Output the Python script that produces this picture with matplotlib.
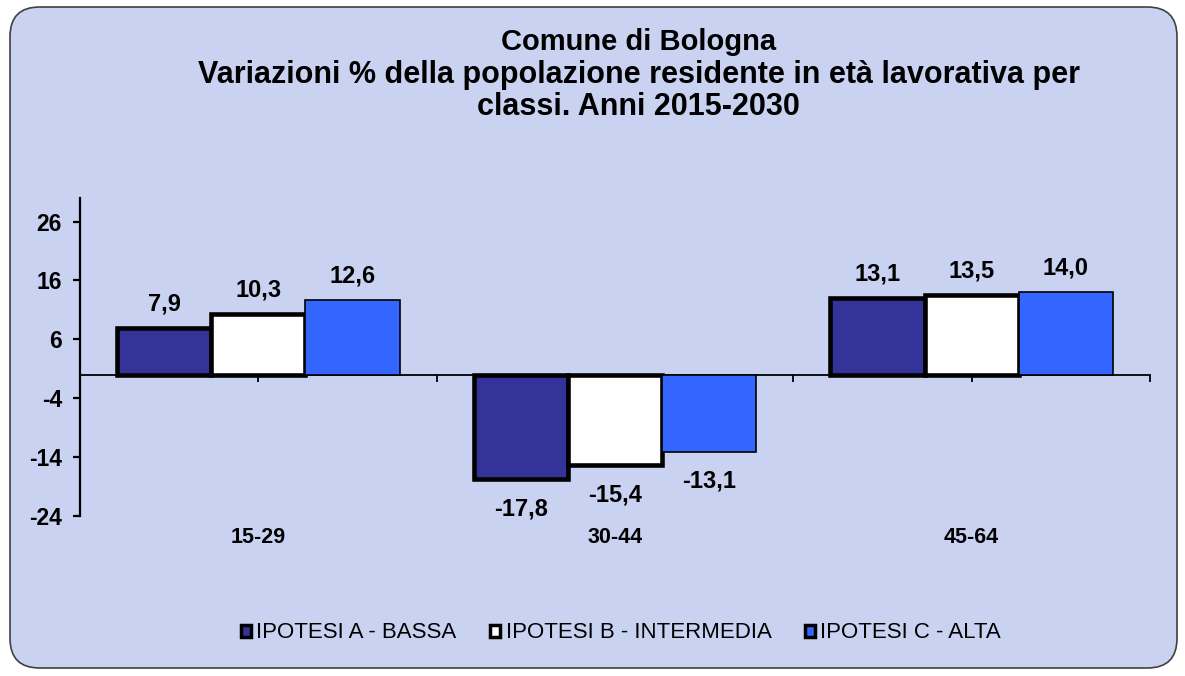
import matplotlib.pyplot as plt
from matplotlib.patches import FancyBboxPatch, Rectangle
import numpy as np

CATEGORIES = ["15-29", "30-44", "45-64"]
SERIES = ["IPOTESI A - BASSA", "IPOTESI B - INTERMEDIA", "IPOTESI C - ALTA"]
IPOTESI_A = [7.9, -17.8, 13.1]
IPOTESI_B = [10.3, -15.4, 13.5]
IPOTESI_C = [12.6, -13.1, 14.0]
Y_TICKS = [-24, -14, -4, 6, 16, 26]
TITLE_LINES = [
    "Comune di Bologna",
    "Variazioni % della popolazione residente in età lavorativa per",
    "classi. Anni 2015-2030",
]

COLORS = ["#333399", "#ffffff", "#3366ff"]
EDGE_WIDTHS = [3.3, 3.3, 1.2]
BG = "#c9d3f1"

plt.rcParams["font.family"] = ["Liberation Sans", "DejaVu Sans"]


def main() -> None:
    fig = plt.figure(figsize=(11.85, 6.76), dpi=100)
    fig.patch.set_facecolor("white")
    frame = FancyBboxPatch(
        (10 / 1185, 8 / 676), 1167 / 1185, 661 / 676,
        boxstyle="round,pad=0,rounding_size=0.025",
        transform=fig.transFigure, facecolor=BG, edgecolor="#404040", linewidth=1.2,
        mutation_aspect=1185 / 676, zorder=-10,
    )
    fig.patches.append(frame)

    ax = fig.add_axes([80 / 1185, 1 - 516 / 676, 1070 / 1185, 318 / 676])
    ax.set_facecolor("none")

    x = np.arange(len(CATEGORIES))
    width = 0.264
    handles = []
    for i, (vals, name) in enumerate(zip([IPOTESI_A, IPOTESI_B, IPOTESI_C], SERIES)):
        pos = x + (i - 1) * width
        ax.bar(pos, vals, width, color=COLORS[i], edgecolor="black",
               linewidth=EDGE_WIDTHS[i], zorder=3)
        for px, v in zip(pos, vals):
            txt = f"{v:.1f}".replace(".", ",")
            off = 9 if v >= 0 else -13
            ax.annotate(txt, (px, v), xytext=(0, off), textcoords="offset points",
                        ha="center", va="bottom" if v >= 0 else "top",
                        fontsize=17, fontweight="bold")
        handles.append(Rectangle((0, 0), 1, 1, facecolor=COLORS[i], edgecolor="black", linewidth=2.5))

    ax.set_xlim(-0.5, 2.5)
    ax.set_ylim(-24, 30)
    ax.spines["top"].set_visible(False)
    ax.spines["right"].set_visible(False)
    ax.spines["left"].set_linewidth(1.6)
    ax.spines["bottom"].set_position(("data", 0))
    ax.spines["bottom"].set_linewidth(1.3)
    ax.spines["bottom"].set_zorder(2)

    ax.set_yticks(Y_TICKS)
    ax.set_yticklabels([str(t) for t in Y_TICKS], fontsize=16.5, fontweight="bold")
    ax.tick_params(axis="y", direction="out", length=5, width=1.6, pad=8)
    ax.set_xticks([-0.5, 0, 0.5, 1, 1.5, 2, 2.5])
    ax.set_xticklabels([])
    ax.tick_params(axis="x", direction="out", length=5, width=1.3)

    for xi, cat in zip(x, CATEGORIES):
        ax.annotate(cat, (xi, -24), xytext=(0, -8), textcoords="offset points",
                    ha="center", va="top", fontsize=15.5, fontweight="bold")

    for y_px, line, size in zip([42, 75, 107], TITLE_LINES, [21, 22, 22]):
        fig.text(0.539, 1 - y_px / 676, line, ha="center", va="center",
                 fontsize=size, fontweight="bold")

    fig.legend(handles, SERIES, loc="center", bbox_to_anchor=(621 / 1185, 1 - 633 / 676),
               ncol=3, frameon=False, fontsize=16, handlelength=0.45, handleheight=0.45,
               handletextpad=0.25, columnspacing=1.5)

    fig.savefig("out.png", dpi=100, facecolor=fig.get_facecolor())
    plt.close(fig)


if __name__ == "__main__":
    main()
